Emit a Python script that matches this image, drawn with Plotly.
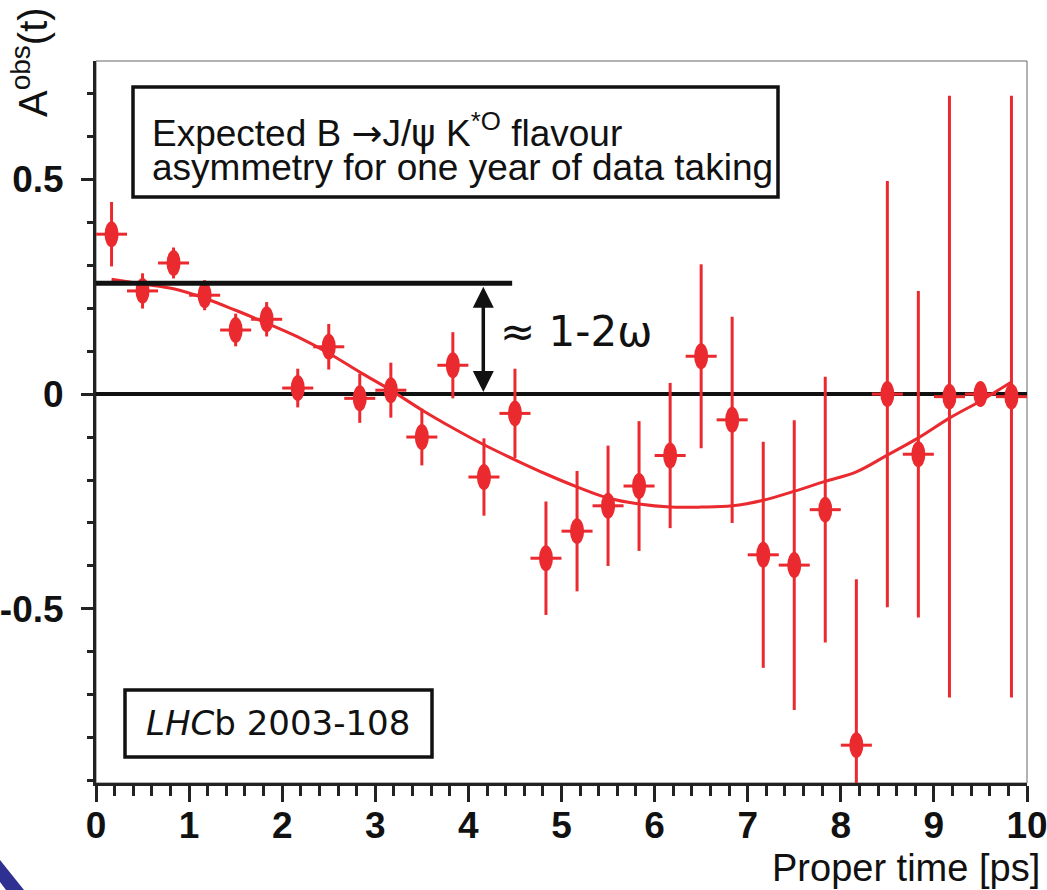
import plotly.graph_objects as go

# ---------------- data ----------------
proper_time = [0.167, 0.5, 0.833, 1.167, 1.5, 1.833, 2.167, 2.5, 2.833, 3.167,
               3.5, 3.833, 4.167, 4.5, 4.833, 5.167, 5.5, 5.833, 6.167, 6.5,
               6.833, 7.167, 7.5, 7.833, 8.167, 8.5, 8.833, 9.167, 9.5, 9.833]
asym_obs = [0.372, 0.240, 0.305, 0.230, 0.149, 0.174, 0.014, 0.110, -0.010, 0.009,
            -0.100, 0.067, -0.193, -0.045, -0.382, -0.319, -0.260, -0.214, -0.143, 0.088,
            -0.060, -0.374, -0.398, -0.269, -0.817, 0.000, -0.140, -0.006, 0.000, -0.006]
asym_err = [0.075, 0.041, 0.036, 0.035, 0.038, 0.040, 0.045, 0.053, 0.057, 0.064,
            0.066, 0.077, 0.090, 0.104, 0.132, 0.140, 0.140, 0.151, 0.169, 0.214,
            0.240, 0.263, 0.337, 0.309, 0.386, 0.496, 0.380, 0.700, 0.000, 0.700]
fit_curve = [0.267, 0.256, 0.245, 0.223, 0.195, 0.165, 0.133, 0.095, 0.051, 0.009,
             -0.037, -0.079, -0.118, -0.153, -0.186, -0.216, -0.242, -0.256, -0.263, -0.263,
             -0.260, -0.247, -0.226, -0.203, -0.181, -0.142, -0.102, -0.056, -0.016, 0.028]
bin_half_width = 1 / 6
dilution_level = 0.258      # "1-2w" reference level
dilution_line_end = 4.47    # time where the level line stops
arrow_time = 4.16

x_tick_vals = [0, 1, 2, 3, 4, 5, 6, 7, 8, 9, 10]
x_tick_text = ["0", "1", "2", "3", "4", "5", "6", "7", "8", "9", "10"]
y_tick_vals = [-0.5, 0, 0.5]
y_tick_text = ["-0.5", "0", "0.5"]

# ---------------- layout geometry (pixels) ----------------
W, H = 1047, 890
L, R, T, B = 96, 1027, 61, 783
Y_MIN, Y_MAX = -0.905, 0.775


def px_x(px):
    return (px - L) / (R - L)


def px_y(py):
    return (B - py) / (B - T)


RED = "#ea2a2f"
INK = "#111111"
XTICKFONT = dict(family="Liberation Sans, Arial, sans-serif", size=37, color=INK, weight="bold")
YTICKFONT = dict(family="Liberation Sans, Arial, sans-serif", size=37, color=INK, weight="bold")
ARIAL = "Liberation Sans, Arial, Helvetica, sans-serif"
SYM = '<span style="font-family:DejaVu Sans">{}</span>'

fig = go.Figure()

fig.add_trace(go.Scatter(
    x=proper_time, y=asym_obs, mode="markers",
    marker=dict(symbol="circle", size=13, color=RED),
    error_y=dict(type="data", array=asym_err, visible=True, color=RED, thickness=3, width=0),
    error_x=dict(type="constant", value=bin_half_width, visible=True, color=RED, thickness=3, width=0),
    showlegend=False, hoverinfo="skip",
))
fig.add_trace(go.Scatter(
    x=proper_time, y=fit_curve, mode="lines", line_shape="spline",
    line=dict(color=RED, width=3), showlegend=False, hoverinfo="skip",
))

shapes = []
# elliptical markers (ROOT style, stretched)
ex = 7 / (R - L) * 10
ey = 13 / (B - T) * (Y_MAX - Y_MIN)
for t, a in zip(proper_time, asym_obs):
    shapes.append(dict(type="circle", xref="x", yref="y", x0=t - ex, x1=t + ex,
                       y0=a - ey, y1=a + ey, fillcolor=RED, line=dict(width=0), layer="above"))
# reference level line
shapes.append(dict(type="line", xref="x", yref="y", x0=0, x1=dilution_line_end,
                   y0=dilution_level, y1=dilution_level, line=dict(color=INK, width=5), layer="above"))
# frame (thin top/right)
shapes.append(dict(type="rect", xref="paper", yref="paper", x0=0, x1=1, y0=0, y1=1,
                   line=dict(color="#666666", width=1), layer="below"))
# text boxes
shapes.append(dict(type="rect", xref="paper", yref="paper", x0=px_x(133), x1=px_x(778),
                   y0=px_y(197), y1=px_y(87), line=dict(color=INK, width=3.5), fillcolor="white",
                   layer="below"))
shapes.append(dict(type="rect", xref="paper", yref="paper", x0=px_x(125), x1=px_x(432),
                   y0=px_y(757), y1=px_y(690), line=dict(color=INK, width=3.5), fillcolor="white",
                   layer="below"))
# slide decoration in the bottom-left corner
shapes.append(dict(type="path", xref="paper", yref="paper",
                   path=f"M {px_x(0)},{px_y(860)} L {px_x(24)},{px_y(890)} L {px_x(6)},{px_y(890)} "
                        f"L {px_x(0)},{px_y(882)} Z",
                   fillcolor="#2e3192", line=dict(width=0)))

annotations = [
    dict(xref="paper", yref="paper", x=px_x(30), y=px_y(62), text="A<sup>obs</sup>(t)",
         textangle=-90, showarrow=False, xanchor="center", yanchor="middle",
         font=dict(family=ARIAL, size=40, color=INK)),
    dict(xref="paper", yref="paper", x=px_x(1042), y=px_y(868), text="Proper time [ps]",
         showarrow=False, xanchor="right", yanchor="middle",
         font=dict(family=ARIAL, size=38, color=INK)),
    dict(xref="paper", yref="paper", x=px_x(150), y=px_y(131),
         text="Expected B " + SYM.format("\u2192") + "J/" + SYM.format("\u03c8") + " K<sup>*O</sup> flavour",
         showarrow=False, xanchor="left", yanchor="middle",
         font=dict(family=ARIAL, size=37, color=INK)),
    dict(xref="paper", yref="paper", x=px_x(150), y=px_y(167),
         text="asymmetry for one year of data taking",
         showarrow=False, xanchor="left", yanchor="middle",
         font=dict(family=ARIAL, size=37, color=INK)),
    dict(xref="paper", yref="paper", x=px_x(278), y=px_y(723),
         text="<i>LHC</i>b 2003-108", showarrow=False, xanchor="center", yanchor="middle",
         font=dict(family="DejaVu Sans, sans-serif", size=34, color=INK)),
    dict(xref="paper", yref="paper", x=px_x(498), y=px_y(331),
         text="\u2248 1-2\u03c9", showarrow=False, xanchor="left", yanchor="middle",
         font=dict(family="DejaVu Sans, sans-serif", size=42, color=INK)),
    dict(xref="x", yref="y", axref="x", ayref="y", x=arrow_time, y=0.0,
         ax=arrow_time, ay=dilution_level, text="", showarrow=True,
         arrowhead=2, startarrowhead=2, arrowside="end+start", arrowwidth=3.5,
         arrowsize=1.2, startarrowsize=1.2, arrowcolor=INK, standoff=2, startstandoff=2),
]

fig.update_layout(
    width=W, height=H,
    margin=dict(l=L, r=W - R, t=T, b=H - B, autoexpand=False),
    paper_bgcolor="white", plot_bgcolor="white",
    shapes=shapes, annotations=annotations, showlegend=False,
    xaxis=dict(range=[0, 10], showgrid=False, zeroline=False, automargin=False,
               showline=True, linewidth=3, linecolor="#222222",
               ticks="outside", ticklen=16, tickwidth=3, tickcolor="#222222",
               tickvals=x_tick_vals, ticktext=x_tick_text, tickfont=XTICKFONT,
               ticklabelstandoff=-8, ticklabeloverflow="allow",
               minor=dict(dtick=0.2, tick0=0, ticks="outside", ticklen=10, tickwidth=3,
                          tickcolor="#222222", showgrid=False)),
    yaxis=dict(range=[Y_MIN, Y_MAX], showgrid=False, automargin=False,
               zeroline=True, zerolinewidth=4, zerolinecolor=INK,
               showline=True, linewidth=3, linecolor="#222222",
               ticks="outside", ticklen=12, tickwidth=3, tickcolor="#222222",
               tickvals=y_tick_vals, ticktext=y_tick_text, tickfont=YTICKFONT,
               ticklabelstandoff=10, ticklabeloverflow="allow",
               minor=dict(dtick=0.1, tick0=0, ticks="outside", ticklen=6, tickwidth=3,
                          tickcolor="#222222", showgrid=False)),
)

fig.write_html("out.html", config={"displayModeBar": False},
               post_script="document.body.style.margin='0';document.body.style.overflow='hidden';")
